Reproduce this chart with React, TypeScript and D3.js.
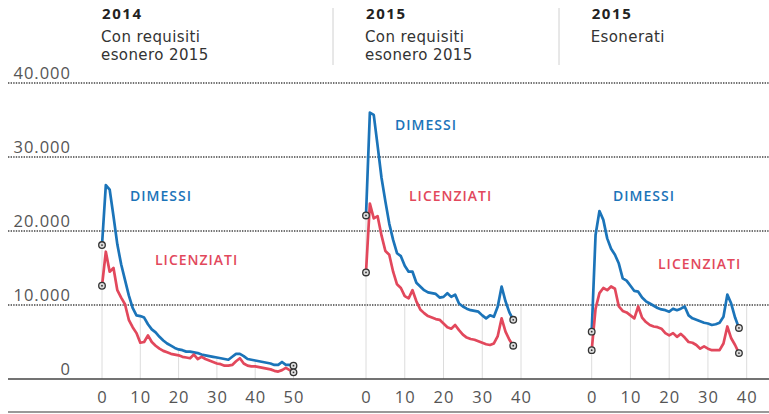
import React, { useRef, useEffect } from 'react';
import * as d3 from 'd3';

// weekly values
const dimessi2014 = [
  18100, 26200, 25600, 22000, 18200, 15500, 13400, 11300, 9600, 8600,
  8500, 8300, 7400, 6700, 6300, 5700, 5200, 4800, 4500, 4200,
  4000, 3900, 3700, 3700, 3600, 3500, 3300, 3200, 3100, 3000,
  2900, 2800, 2700, 2600, 3000, 3400, 3400, 3100, 2700, 2600,
  2500, 2400, 2300, 2200, 2100, 1900, 1900, 2300, 1900, 1900, 1800
];
const licenziati2014 = [
  12600, 17200, 14500, 15000, 12000, 11000, 10100, 8000, 7000, 6200,
  4900, 5000, 5900, 5000, 4500, 4100, 3800, 3600, 3400, 3300,
  3200, 3000, 2900, 2800, 3300, 2700, 3000, 2700, 2500, 2300,
  2100, 2000, 1800, 1800, 1900, 2400, 2800, 2100, 1800, 1700,
  1700, 1600, 1500, 1400, 1300, 1100, 1000, 1200, 1500, 1200, 900
];
const dimessi2015 = [
  22100, 36000, 35700, 31500, 27200, 24000, 21000, 18800, 17000, 16600,
  15300, 14500, 14500, 13000, 12500, 12000, 11700, 11600, 11500, 11000,
  11100, 11600, 11100, 11400, 10200, 9800, 9500, 9300, 9200, 9100,
  8600, 8200, 8600, 8400, 9800, 12500, 10500, 9000, 8000
];
const licenziati2015 = [
  14400, 23700, 21700, 22000, 19400, 17300, 16800, 14500, 12800, 12300,
  11200, 10900, 12000, 10500, 9400, 8900, 8500, 8300, 8100, 8000,
  7500, 7000, 6800, 7300, 6600, 6000, 5600, 5400, 5300, 5100,
  4900, 4700, 4600, 4800, 5800, 8200, 6400, 5300, 4500
];
const dimessiEsonerati = [
  6400, 19500, 22700, 21500, 19000, 17600, 16800, 15600, 13600, 13300,
  12600, 11900, 11800, 11000, 10500, 10200, 9900, 9600, 9400, 9300,
  9100, 9500, 9300, 9500, 9800, 8600, 8200, 8000, 7800, 7600,
  7500, 7300, 7400, 7600, 8400, 11400, 10200, 8300, 6900
];
const licenziatiEsonerati = [
  3900, 9500, 11600, 12300, 12000, 12500, 12200, 9800, 9200, 9000,
  8600, 8200, 9800, 8300, 7700, 7300, 7100, 7000, 6800, 6200,
  5900, 6200, 5700, 6100, 5600, 5000, 4900, 4600, 4100, 4400,
  4100, 3900, 3900, 3900, 4800, 7100, 5500, 4600, 3500
];

const yTicks = [0, 10000, 20000, 30000, 40000];
const xTicksLong = [0, 10, 20, 30, 40, 50];
const xTicksShort = [0, 10, 20, 30, 40];
const panelYears = ['2014', '2015', '2015'];
const panelSubtitles = [
  ['Con requisiti', 'esonero 2015'],
  ['Con requisiti', 'esonero 2015'],
  ['Esonerati']
];

const BLUE = '#1b74b9';
const RED = '#e2485c';
const FONT = '"Open Sans", "DejaVu Sans", sans-serif';

const App = () => {
  const svgRef = useRef<SVGSVGElement>(null);

  useEffect(() => {
    const width = 769;
    const height = 414;
    const svg = d3.select(svgRef.current)
      .attr('width', width)
      .attr('height', height);
    svg.selectAll('*').remove();

    svg.append('rect').attr('width', width).attr('height', height).attr('fill', '#fff');

    const y = d3.scaleLinear().domain([0, 40000]).range([379, 83]);
    const fmt = (v: number) => d3.format(',')(v).replace(/,/g, '.');

    const panels = [
      { dim: dimessi2014, lic: licenziati2014, domain: [0, 50], range: [102, 293.5], ticks: xTicksLong,
        dimLabel: [130, 201], licLabel: [155, 265] },
      { dim: dimessi2015, lic: licenziati2015, domain: [0, 40], range: [366, 521], ticks: xTicksShort,
        dimLabel: [395, 130], licLabel: [409, 201] },
      { dim: dimessiEsonerati, lic: licenziatiEsonerati, domain: [0, 40], range: [591.7, 746.7], ticks: xTicksShort,
        dimLabel: [613, 201], licLabel: [658, 269] }
    ];

    // vertical light tick lines under the curves
    panels.forEach(p => {
      const x = d3.scaleLinear().domain(p.domain).range(p.range);
      p.ticks.forEach(t => {
        const v = p.dim[t];
        const top = t === 0 ? v : (v === undefined ? 10000 : Math.min(v, 10000));
        svg.append('line')
          .attr('x1', x(t)).attr('x2', x(t))
          .attr('y1', y(0)).attr('y2', y(top))
          .attr('stroke', '#dcdcdc')
          .attr('stroke-width', 1);
      });
    });

    // dotted horizontal gridlines + y labels
    yTicks.forEach(t => {
      if (t > 0) {
        svg.append('line')
          .attr('x1', 8).attr('x2', width)
          .attr('y1', y(t)).attr('y2', y(t))
          .attr('stroke', '#444')
          .attr('stroke-width', 1.6)
          .attr('stroke-dasharray', '1.4 1.2');
      }
      svg.append('text')
        .attr('x', 71)
        .attr('y', y(t) - 4)
        .attr('text-anchor', 'end')
        .style('font-family', FONT)
        .style('font-size', '16.5px')
        .style('letter-spacing', '1px')
        .style('fill', '#555')
        .text(fmt(t));
    });

    // baseline and bottom rule
    svg.append('line')
      .attr('x1', 8).attr('x2', width)
      .attr('y1', y(0)).attr('y2', y(0))
      .attr('stroke', '#444').attr('stroke-width', 1.6);
    svg.append('line')
      .attr('x1', 8).attr('x2', width)
      .attr('y1', 412).attr('y2', 412)
      .attr('stroke', '#999').attr('stroke-width', 2);

    // panel separators
    [333, 559].forEach(sx => {
      svg.append('line')
        .attr('x1', sx).attr('x2', sx)
        .attr('y1', 8).attr('y2', 65)
        .attr('stroke', '#d0d0d0').attr('stroke-width', 1);
    });

    panels.forEach((p, i) => {
      const x = d3.scaleLinear().domain(p.domain).range(p.range);

      // x tick labels
      p.ticks.forEach(t => {
        svg.append('text')
          .attr('x', x(t) + 0.5)
          .attr('y', 403)
          .attr('text-anchor', 'middle')
          .style('font-family', FONT)
          .style('font-size', '16.5px')
          .style('letter-spacing', '1px')
          .style('fill', '#555')
          .text(t);
      });

      // titles
      svg.append('text')
        .attr('x', p.range[0])
        .attr('y', 19)
        .style('font-family', FONT)
        .style('font-size', '15px')
        .style('font-weight', 'bold')
        .style('letter-spacing', '1.6px')
        .style('fill', '#222')
        .text(panelYears[i]);
      // subtitles: DejaVu keeps the two lines' boxes from touching
      panelSubtitles[i].forEach((s, j) => {
        svg.append('text')
          .attr('x', p.range[0] - 1)
          .attr('y', 42 + j * 18)
          .style('font-family', '"DejaVu Sans", sans-serif')
          .style('font-size', '15px')
          .style('letter-spacing', '0.4px')
          .style('fill', '#333')
          .text(s);
      });

      const line = d3.line<number>()
        .x((d, k) => x(k))
        .y(d => y(d));

      [[p.dim, BLUE], [p.lic, RED]].forEach(([vals, color]) => {
        svg.append('path')
          .datum(vals as number[])
          .attr('d', line)
          .attr('fill', 'none')
          .attr('stroke', color as string)
          .attr('stroke-width', 2.7)
          .attr('stroke-linejoin', 'round');
      });

      // endpoint markers
      [p.dim, p.lic].forEach(vals => {
        [0, vals.length - 1].forEach(k => {
          svg.append('circle')
            .attr('cx', x(k)).attr('cy', y(vals[k]))
            .attr('r', 3.3)
            .attr('fill', '#ddd')
            .attr('stroke', '#333')
            .attr('stroke-width', 1.3);
          svg.append('circle')
            .attr('cx', x(k)).attr('cy', y(vals[k]))
            .attr('r', 0.9)
            .attr('fill', '#333');
        });
      });

      svg.append('text')
        .attr('x', p.dimLabel[0]).attr('y', p.dimLabel[1])
        .style('font-family', FONT)
        .style('font-size', '14px')
        .style('font-weight', 600)
        .style('letter-spacing', '1px')
        .style('fill', BLUE)
        .text('DIMESSI');
      svg.append('text')
        .attr('x', p.licLabel[0]).attr('y', p.licLabel[1])
        .style('font-family', FONT)
        .style('font-size', '14px')
        .style('font-weight', 600)
        .style('letter-spacing', '1px')
        .style('fill', RED)
        .text('LICENZIATI');
    });
  }, []);

  return (
    <div style={{ position: 'absolute', left: 0, top: 0 }}>
      <svg ref={svgRef} style={{ display: 'block' }}></svg>
    </div>
  );
};

export default App;
